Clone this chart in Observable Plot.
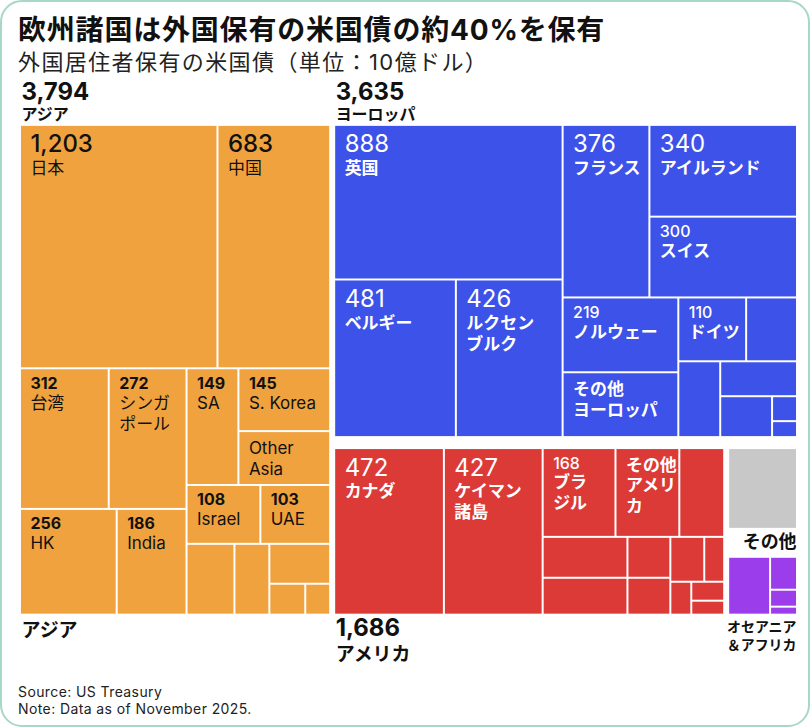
<!DOCTYPE html>
<html lang="ja">
<head>
<meta charset="utf-8">
<script src="https://cdn.jsdelivr.net/npm/d3@7"></script>
<script src="https://cdn.jsdelivr.net/npm/@observablehq/plot@0.6"></script>
<style>
  html, body { margin: 0; padding: 0; background: #fff; }
  body { font-family: Inter, "Noto Sans CJK JP", sans-serif; color: #111; }
  #card {
    position: relative; width: 810px; height: 727px; box-sizing: border-box;
    border: 2px solid #a6d7c8; border-radius: 22px; overflow: hidden; background: #fff;
  }
  #title {
    position: absolute; left: 16px; top: 10px; margin: 0;
    font-size: 28px; line-height: 36px; font-weight: 700; letter-spacing: 0.8px; white-space: nowrap;
  }
  #subtitle {
    position: absolute; left: 16px; top: 46px; margin: 0;
    font-size: 22px; line-height: 28px; font-weight: 400; letter-spacing: 1.4px; color: #222; white-space: nowrap;
  }
  #chart { position: absolute; left: -2px; top: 74px; }
  #chart g[aria-label="value"] { letter-spacing: 1px; }
  #chart g[aria-label="region total"] { letter-spacing: 1.2px; }
  .note {
    position: absolute; left: 16px; margin: 0;
    font-size: 14px; line-height: 17px; letter-spacing: 0.4px; color: #222; white-space: nowrap;
  }
</style>
</head>
<body>
<div id="card">
  <h1 id="title">欧州諸国は外国保有の米国債の約40%を保有</h1>
  <p id="subtitle">外国居住者保有の米国債（単位：10億ドル）</p>
  <div id="chart"></div>
  <p class="note" style="top: 681px;">Source: US Treasury</p>
  <p class="note" style="top: 698px;">Note: Data as of November 2025.</p>
</div>
<script>
// Foreign holdings of US Treasuries, billions of dollars (November 2025).
// Each region lists its holders largest first; null labels are the smaller, unnamed holders.
const regionKeys = ["asia", "europe", "americas", "other", "oceaniaAfrica"];
const regionNames = ["アジア", "ヨーロッパ", "アメリカ", "その他", "オセアニア\n＆アフリカ"];
const regionColors = ["#f0a23f", "#3d52e8", "#dc3a37", "#c8c8c8", "#9b3deb"];

const asiaLabels = ["日本", "中国", "台湾", "シンガ\nポール", "HK", "India", "SA", "S. Korea", "Other\nAsia", "Israel", "UAE", null, null, null, null, null];
const asiaValues = [1203, 683, 312, 272, 256, 186, 149, 145, 124, 108, 103, 83, 62, 60, 28, 20];

const europeLabels = ["英国", "ベルギー", "ルクセン\nブルク", "フランス", "アイルランド", "スイス", "ノルウェー", "その他\nヨーロッパ", "ドイツ", null, null, null, null, null, null];
const europeValues = [888, 481, 426, 376, 340, 300, 219, 186, 110, 83, 81, 68, 52, 15, 10];

const americasLabels = ["カナダ", "ケイマン\n諸島", "ブラ\nジル", "その他\nアメリ\nカ", null, null, null, null, null, null, null, null, null, null];
const americasValues = [472, 427, 168, 148, 104, 89, 82, 45, 41, 40, 24, 18, 16, 12];

const otherLabels = [null];
const otherValues = [200];

const oceaniaAfricaLabels = [null, null, null, null];
const oceaniaAfricaValues = [66, 25, 13, 6];

const regionLabels = [asiaLabels, europeLabels, americasLabels, otherLabels, oceaniaAfricaLabels];
const regionValues = [asiaValues, europeValues, americasValues, otherValues, oceaniaAfricaValues];

// Treemap area, in pixels
const W = 777, H = 489;

// Binary split tiling: each box is cut where the running total is closest to half,
// across the width only when the box is clearly wider than it is tall.
const wideRatio = 1.13;
function tileBinary(parent, x0, y0, x1, y1) {
  const nodes = parent.children, n = nodes.length, sums = [0];
  for (let i = 0; i < n; ++i) sums.push(sums[i] + nodes[i].value);
  partition(0, n, parent.value, x0, y0, x1, y1);
  function partition(i, j, value, x0, y0, x1, y1) {
    if (i >= j - 1) {
      const node = nodes[i];
      node.x0 = x0; node.y0 = y0; node.x1 = x1; node.y1 = y1;
      return;
    }
    const offset = sums[i], target = value / 2 + offset;
    let k = i + 1, hi = j - 1;
    while (k < hi) {
      const mid = (k + hi) >>> 1;
      if (sums[mid] < target) k = mid + 1; else hi = mid;
    }
    if (target - sums[k - 1] < sums[k] - target && i + 1 < k) --k;
    const left = sums[k] - offset, right = value - left;
    if (x1 - x0 > (y1 - y0) * wideRatio) {
      const xk = (x0 * right + x1 * left) / value;
      partition(i, k, left, x0, y0, xk, y1);
      partition(k, j, right, xk, y0, x1, y1);
    } else {
      const yk = (y0 * right + y1 * left) / value;
      partition(i, k, left, x0, y0, x1, yk);
      partition(k, j, right, x0, yk, x1, y1);
    }
  }
}

const root = d3.hierarchy({
  children: regionKeys.map((key, r) => ({
    key,
    name: regionNames[r],
    children: regionValues[r].map((value, i) => ({label: regionLabels[r][i], value}))
  }))
})
  .sum(d => d.children ? 0 : d.value)
  .sort((a, b) => b.value - a.value);

// Extra room around some regions for the gaps and the labels set between blocks
const padTop = {americas: 4, other: 4};
const padBottom = {europe: 3, other: 24};

d3.treemap()
  .size([W, H])
  .tile(tileBinary)
  .round(true)
  .paddingInner(d => d.depth === 0 ? 6 : 2)
  .paddingTop(d => d.depth === 1 ? (padTop[d.data.key] || 0) : 0)
  .paddingBottom(d => d.depth === 1 ? (padBottom[d.data.key] || 0) : 0)(root);

const leaves = root.leaves();
const region = d => d.parent.data.key;
const fmt = d3.format(",");
const isBig = d => d.value >= 340;
const showsValue = d => !/^(その他|Other)/.test(d.data.label);

// Label lines inside the tiles, baselines measured from each tile's top-left corner
const labelled = leaves.filter(d => d.data.label);
const numberRows = labelled.filter(showsValue).map(d => ({
  key: region(d), big: isBig(d), x: d.x0 + 9, y: d.y0 + (isBig(d) ? 26 : 19), text: fmt(d.value)
}));
const nameRows = labelled.flatMap(d => {
  const first = !showsValue(d) ? 21 : isBig(d) ? 48 : 39;
  return d.data.label.split("\n").map((text, i) => ({key: region(d), x: d.x0 + 9, y: d.y0 + first + 21 * i, text}));
});

// Region labels around the blocks
const g = key => root.children.find(c => c.data.key === key);
const nameOf = key => regionNames[regionKeys.indexOf(key)];
const A = g("asia"), E = g("europe"), M = g("americas"), O = g("other"), F = g("oceaniaAfrica");
const totalRows = [
  {x: A.x0, y: A.y0 - 26, text: fmt(A.value)},
  {x: E.x0, y: E.y0 - 26, text: fmt(E.value)},
  {x: M.x0, y: M.y1 + 22, text: fmt(M.value)}
];
const regionRows = [
  {x: A.x0, y: A.y0 - 6, text: nameOf("asia"), size: 16},
  {x: E.x0, y: E.y0 - 6, text: nameOf("europe"), size: 16},
  {x: A.x0, y: A.y1 + 23, text: nameOf("asia"), size: 19},
  {x: M.x0, y: M.y1 + 47, text: nameOf("americas"), size: 19}
];
const endRows = [
  {x: O.x1, y: O.children[0].y1 + 20, text: nameOf("other"), size: 18},
  ...nameOf("oceaniaAfrica").split("\n").map((text, i) => ({x: F.x1, y: F.y1 + 18 + 18 * i, text, size: 14}))
];

const dark = "#111", light = "#fff";
const inAsia = r => r.key === "asia";
const base = {x: "x", y: "y", text: "text", textAnchor: "start", lineAnchor: "bottom"};

const chart = Plot.plot({
  width: 810,
  height: 596,
  margin: 0,
  x: {domain: [0, W], range: [21, 798], axis: null},
  y: {domain: [0, H], range: [50, 539], axis: null},
  color: {domain: regionKeys, range: regionColors},
  style: {background: "transparent", fontFamily: 'Inter, "Noto Sans CJK JP", sans-serif', overflow: "visible"},
  marks: [
    Plot.rect(leaves, {x1: "x0", x2: "x1", y1: "y0", y2: "y1", fill: region}),
    // values
    Plot.text(numberRows.filter(r => inAsia(r) && r.big), {...base, ariaLabel: "value", fill: dark, fontSize: 24, fontWeight: 500}),
    Plot.text(numberRows.filter(r => inAsia(r) && !r.big), {...base, fill: dark, fontSize: 16, fontWeight: 700}),
    Plot.text(numberRows.filter(r => !inAsia(r) && r.big), {...base, ariaLabel: "value", fill: light, fontSize: 24, fontWeight: 400}),
    Plot.text(numberRows.filter(r => !inAsia(r) && !r.big), {...base, fill: light, fontSize: 16, fontWeight: 500}),
    // names
    Plot.text(nameRows.filter(inAsia), {...base, fill: dark, fontSize: 17, fontWeight: 400}),
    Plot.text(nameRows.filter(r => !inAsia(r)), {...base, fill: light, fontSize: 17, fontWeight: 700}),
    // region totals and names
    Plot.text(totalRows, {...base, ariaLabel: "region total", fill: dark, fontSize: 24, fontWeight: 700}),
    Plot.text(regionRows, {...base, fill: dark, fontSize: d => d.size, fontWeight: 700}),
    Plot.text(endRows, {...base, textAnchor: "end", fill: dark, fontSize: d => d.size, fontWeight: 700})
  ]
});

document.getElementById("chart").append(chart);
</script>
</body>
</html>
